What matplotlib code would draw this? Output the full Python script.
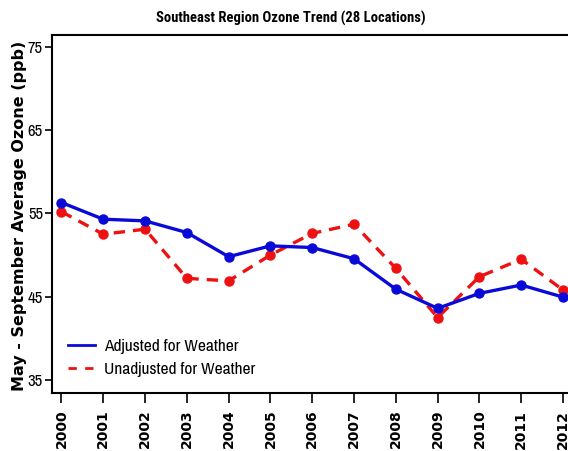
import matplotlib
matplotlib.use('Agg')
import matplotlib.pyplot as plt
from matplotlib.lines import Line2D

years = [2000, 2001, 2002, 2003, 2004, 2005, 2006, 2007, 2008, 2009, 2010, 2011, 2012]
adjusted = [56.3, 54.3, 54.1, 52.7, 49.8, 51.1, 50.9, 49.55, 45.9, 43.6, 45.4, 46.4, 44.95]
unadjusted = [55.2, 52.5, 53.1, 47.2, 46.9, 50.0, 52.6, 53.7, 48.4, 42.5, 47.4, 49.5, 45.8]
yticks = [35, 45, 55, 65, 75]

narrow = ['Archivo Narrow', 'Roboto Condensed', 'Liberation Sans']
narrow_bold = ['Roboto Condensed', 'Liberation Sans']
blue = '#0a0ad8'
red = '#ee1111'

fig = plt.figure(figsize=(5.68, 4.51), dpi=100)
ax = fig.add_axes([0.0915, 0.1286, 0.9255, 0.7938])

ax.plot(years, unadjusted, color=red, lw=2.4, ls=(0, (3.4, 2.4)),
        marker='o', ms=6.5, zorder=2)
ax.plot(years, adjusted, color=blue, lw=2.4, ls='-',
        marker='o', ms=6.5, zorder=3)

ax.set_xlim(1999.773, 2012.35)
ax.set_ylim(33.44, 76.41)

ax.set_yticks(yticks)
ax.set_yticklabels([str(v) for v in yticks], family=narrow, fontsize=12)
ax.set_xticks(years)
ax.set_xticklabels([str(y) for y in years], rotation=90, family='DejaVu Sans',
                   fontweight='bold', fontsize=10, va='top')
ax.tick_params(axis='y', length=5, width=1.2, pad=1.5)
ax.tick_params(axis='x', length=7, width=1.2, pad=5)
for s in ax.spines.values():
    s.set_linewidth(1.5)

fig.text(291 / 568, 1 - 18 / 451, 'Southeast Region Ozone Trend (28 Locations)',
         ha='center', va='center', family=narrow_bold, fontweight='bold', fontsize=10.5)
fig.text(20 / 568, 1 - 216 / 451, 'May - September Average Ozone (ppb)',
         ha='center', va='center', rotation=90, family='DejaVu Sans',
         fontweight='bold', fontsize=11.5)

handles = [Line2D([], [], color=blue, lw=2),
           Line2D([], [], color=red, lw=2, ls=(0, (3, 3)))]
ax.legend(handles, ['Adjusted for Weather', 'Unadjusted for Weather'],
          loc='lower left', bbox_to_anchor=(0.0, 0.0), frameon=False,
          prop={'family': narrow, 'size': 12.5}, handlelength=1.6,
          handletextpad=0.5, labelspacing=0.45)

fig.savefig('out.png', dpi=100)
